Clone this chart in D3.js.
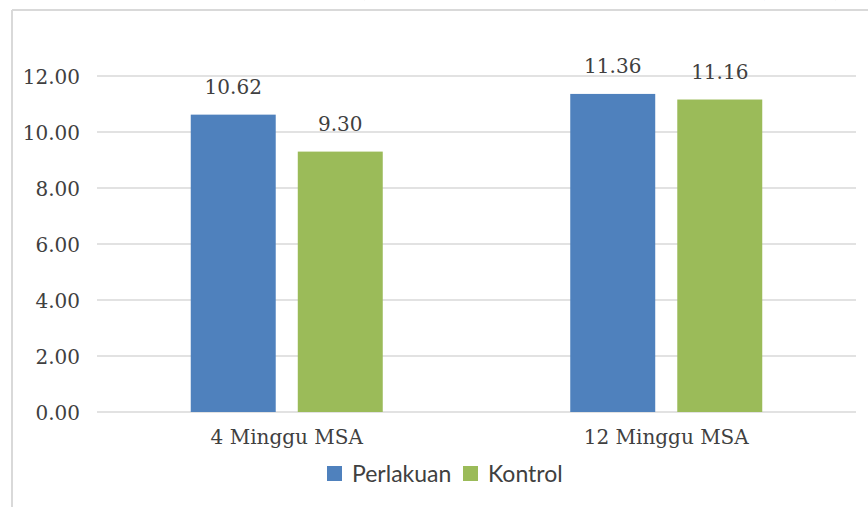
<!DOCTYPE html>
<html>
<head>
<meta charset="utf-8">
<script src="https://d3js.org/d3.v7.min.js"></script>
<style>
body { margin: 0; background: #fff; }
svg { display: block; }
.tick text { font-family: "DejaVu Serif", serif; font-size: 20px; fill: #404040; }
.lbl { font-family: "DejaVu Serif", serif; font-size: 20px; fill: #404040; }
.leg { font-family: Lato, "Open Sans", sans-serif; font-size: 23px; fill: #404040; }
</style>
</head>
<body>
<svg width="868" height="507"></svg>
<script>
// data
var categories = ["4 Minggu MSA", "12 Minggu MSA"];
var series = ["Perlakuan", "Kontrol"];
var perlakuan = [10.62, 11.36];
var kontrol = [9.30, 11.16];
var yTicks = [0, 2, 4, 6, 8, 10, 12];
var colors = ["#4F81BD", "#9BBB59"];

var svg = d3.select("svg");
var plotLeft = 97, plotRight = 856, plotTop = 20, plotBottom = 412;

// chart frame (only left and top edges are visible in the crop)
svg.append("line").attr("x1", 12).attr("x2", 868).attr("y1", 10).attr("y2", 10)
  .attr("stroke", "#d9d9d9").attr("stroke-width", 2);
svg.append("line").attr("x1", 12).attr("x2", 12).attr("y1", 10).attr("y2", 507)
  .attr("stroke", "#d9d9d9").attr("stroke-width", 2);

// cut-off title above the frame: only the bottoms of the brackets show
svg.append("text").attr("class", "lbl").attr("x", 367).attr("y", -3).attr("text-anchor", "middle").text(")");
svg.append("text").attr("class", "lbl").attr("x", 762).attr("y", -3).attr("text-anchor", "middle").text("(");
svg.append("text").attr("class", "lbl").attr("x", 838).attr("y", -3).attr("text-anchor", "middle").text(")");

var x0 = d3.scaleBand().domain(categories).range([plotLeft, plotRight]);
var x1 = d3.scaleBand().domain(series).range([0, x0.bandwidth()]).paddingInner(0.206).paddingOuter(0.876);
var y = d3.scaleLinear().domain([0, 14]).range([plotBottom, plotTop]);

// gridlines
svg.append("g").selectAll("line").data(yTicks).enter().append("line")
  .attr("x1", plotLeft).attr("x2", plotRight)
  .attr("y1", function(d){ return y(d); }).attr("y2", function(d){ return y(d); })
  .attr("stroke", "#d9d9d9").attr("stroke-width", 1.5);

var yAxis = svg.append("g").attr("transform", "translate(" + plotLeft + ",0)")
  .call(d3.axisLeft(y).tickValues(yTicks).tickFormat(d3.format(".2f")).tickSize(0).tickPadding(17));
yAxis.select(".domain").remove();
yAxis.selectAll(".tick text").attr("dy", "0.36em");

var rows = categories.map(function(c, i){ return [perlakuan[i], kontrol[i]]; });

var groups = svg.append("g").selectAll("g").data(rows).enter().append("g")
  .attr("transform", function(d, i){ return "translate(" + x0(categories[i]) + ",0)"; });

groups.selectAll("rect").data(function(d){ return d; }).enter().append("rect")
  .attr("x", function(d, j){ return x1(series[j]); })
  .attr("width", x1.bandwidth())
  .attr("y", function(d){ return y(d); })
  .attr("height", function(d){ return y(0) - y(d); })
  .attr("fill", function(d, j){ return colors[j]; });

groups.selectAll("text").data(function(d){ return d; }).enter().append("text")
  .attr("class", "lbl")
  .attr("x", function(d, j){ return x1(series[j]) + x1.bandwidth() / 2; })
  .attr("y", function(d){ return y(d) - 21; })
  .attr("text-anchor", "middle")
  .text(function(d){ return d.toFixed(2); });

var xAxis = svg.append("g").attr("transform", "translate(0," + plotBottom + ")")
  .call(d3.axisBottom(x0).tickSize(0).tickPadding(18));
xAxis.select(".domain").remove();

// legend
var legX = [327, 463];
var leg = svg.append("g").selectAll("g").data(series).enter().append("g")
  .attr("transform", function(d, i){ return "translate(" + legX[i] + ",466)"; });
leg.append("rect").attr("width", 15).attr("height", 15).attr("fill", function(d, i){ return colors[i]; });
leg.append("text").attr("class", "leg").attr("x", 25).attr("y", 16).text(function(d){ return d; });
</script>
</body>
</html>
